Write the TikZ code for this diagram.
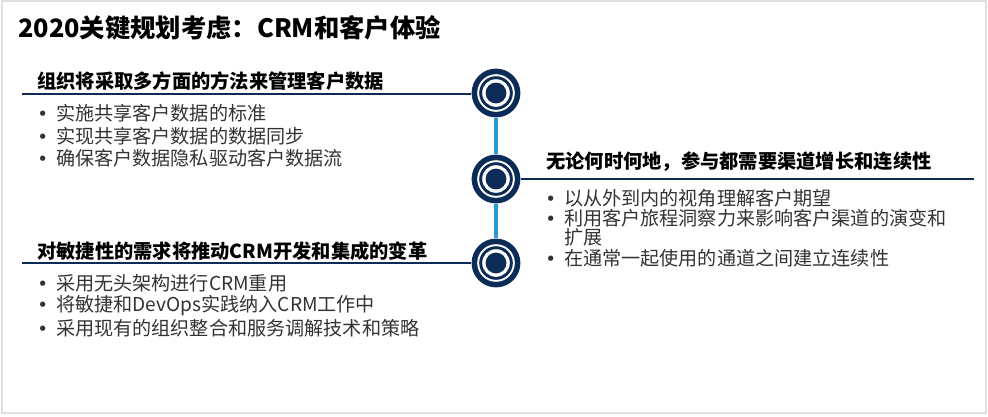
\documentclass[tikz,border=0pt]{standalone}
\usepackage{fontspec}
\setmainfont{Noto Sans CJK SC}
\newfontfamily\dotfont{DejaVu Sans}
\usetikzlibrary{positioning}
\definecolor{navycol}{HTML}{0D2B57}
\definecolor{linkcol}{HTML}{2A9AD4}
\definecolor{itemcol}{HTML}{333333}
\definecolor{framecol}{HTML}{E0E0E0}
\newcommand{\bitem}[1]{\makebox[0.47cm][l]{\dotfont\fontsize{13}{13}\selectfont •}#1}
\tikzset{
  titletext/.style={anchor=west, inner sep=0, font=\fontsize{18}{22}\selectfont\bfseries},
  headtext/.style={anchor=west, inner sep=0, font=\fontsize{13.7}{16}\selectfont\bfseries},
  itemtext/.style={anchor=west, inner sep=0, align=left, text=itemcol, font=\fontsize{13.6}{13.6}\selectfont},
  ring/.style={circle, fill=navycol, minimum size=1.22cm, inner sep=0,
    path picture={
      \fill[white] (path picture bounding box.center) circle (0.47cm);
      \fill[navycol] (path picture bounding box.center) circle (0.42cm);
      \fill[white] (path picture bounding box.center) circle (0.345cm);
      \fill[navycol] (path picture bounding box.center) circle (0.26cm);
    }},
  hline/.style={navycol, line width=1.4pt},
  vlink/.style={linkcol, line width=3pt},
}

\begin{document}
\begin{tikzpicture}[x=0.025cm, y=-0.025cm]
  \useasboundingbox (0,0) rectangle (988,416);
  \draw[framecol, line width=1.2pt] (2,1) rectangle (986,413);

  \node[titletext] (title) at (18,28) {2020关键规划考虑：CRM和客户体验};

  % timeline
  \node[ring] (c1) at (496,93) {};
  \node[ring] (c2) at (496,179) {};
  \node[ring] (c3) at (496,263) {};
  \draw[vlink] (c1.south) -- (c2.north);
  \draw[vlink] (c2.south) -- (c3.north);

  \coordinate (l1) at (22,94);
  \coordinate (l2) at (974,179);
  \coordinate (l3) at (22,263);
  \draw[hline] (l1) -- (l1 -| c1.west);
  \draw[hline] (c2.east |- l2) -- (l2);
  \draw[hline] (l3) -- (l3 -| c3.west);

  % block 1
  \node[headtext] (h1) at (37,81) {组织将采取多方面的方法来管理客户数据};
  \node[itemtext] (i11) at (37,113) {\bitem{实施共享客户数据的标准}};
  \node[itemtext] (i12) at (37,136) {\bitem{实现共享客户数据的数据同步}};
  \node[itemtext] (i13) at (37,158) {\bitem{确保客户数据隐私驱动客户数据流}};

  % block 2
  \node[headtext] (h2) at (546,162) {无论何时何地，参与都需要渠道增长和连续性};
  \node[itemtext] (i21) at (545,198) {\bitem{以从外到内的视角理解客户期望}};
  \node[itemtext, anchor=north west] (i22) at (545,209) {\bitem{利用客户旅程洞察力来影响客户渠道的演变和}\\\hspace*{0.47cm}扩展};
  \node[itemtext] (i23) at (545,258) {\bitem{在通常一起使用的通道之间建立连续性}};

  % block 3
  \node[headtext] (h3) at (37,251) {对敏捷性的需求将推动CRM开发和集成的变革};
  \node[itemtext] (i31) at (37,283) {\bitem{采用无头架构进行CRM重用}};
  \node[itemtext] (i32) at (37,306) {\bitem{将敏捷和DevOps实践纳入CRM工作中}};
  \node[itemtext] (i33) at (37,328) {\bitem{采用现有的组织整合和服务调解技术和策略}};
\end{tikzpicture}
\end{document}
